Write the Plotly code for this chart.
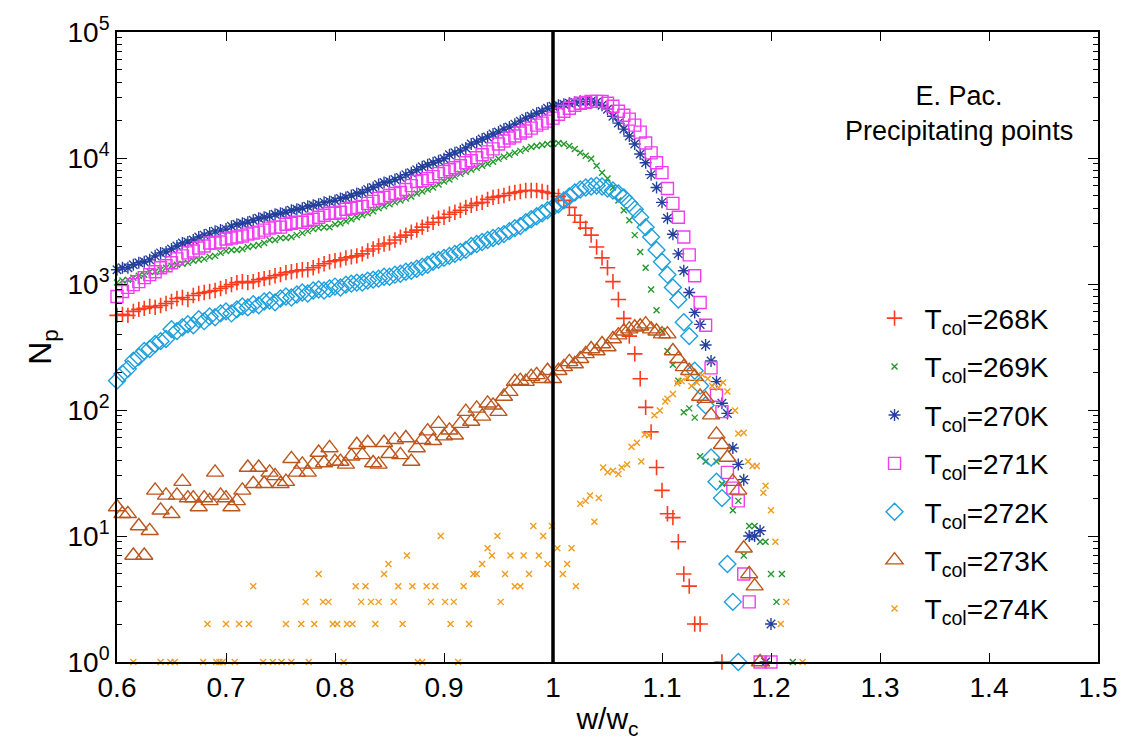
import plotly.graph_objects as go

# ---------------- data ----------------
X_START = 0.6
X_STEP = 0.005
CRITICAL_RATIO = 1.0

NP_268 = [564, 574, 564, 606, 629, 641, 664, 652, 676, 701, 727, 768, 782, 754, 811, 841, 856, 872, 888, 920,
          954, 988, 1026, 1044, 1026, 1044, 1083, 1103, 1123, 1164, 1186, 1230, 1252, 1275, 1298, 1298, 1346, 1396, 1447, 1500,
          1528, 1555, 1613, 1642, 1672, 1734, 1830, 1898, 2004, 2078, 2116, 2234, 2356, 2443, 2581, 2677, 2826, 2983, 3093, 3326,
          3387, 3576, 3708, 3845, 4059, 4209, 4365, 4445, 4692, 4866, 4955, 5045, 5232, 5328, 5425, 5523, 5523, 5523, 5425, 5328,
          5232, 4955, 4608, 4059, 3512, 3093, 2776, 2443, 1968, 1613, 1346, 1044, 754, 534, 386, 279, 177, 105, 67, 35,
          23, 15, 14, 9, 5, 4, 2, 2, None, None, None, 1]

NP_269 = [1026, 1064, 1083, 1123, 1164, 1186, 1252, 1252, 1298, 1346, 1396, 1421, 1447, 1473, 1528, 1555, 1583, 1642, 1672, 1766,
          1830, 1864, 1864, 1898, 1968, 2004, 2041, 2116, 2234, 2234, 2316, 2316, 2358, 2443, 2534, 2628, 2726, 2776, 2826, 2826,
          2983, 3037, 3150, 3267, 3387, 3512, 3642, 3776, 3987, 4134, 4287, 4445, 4608, 4778, 4955, 5232, 5425, 5624, 5832, 6158,
          6500, 6739, 7116, 7514, 7790, 8078, 8376, 8685, 9005, 9337, 9858, 10220, 10600, 10990, 11390, 11810, 12250, 12470, 12700, 12930,
          12930, 13160, 12930, 12470, 11810, 10990, 10410, 9858, 8685, 7650, 6862, 5832, 4608, 3845, 3208, 2443, 1798, 1346, 904, 618,
          423, 294, 229, 171, 96, 103, 87, 43, 39, None, 39, 26, None, 16, 19, 7, 12, 12, 9, 9,
          5, 3, 5, None, 1]

NP_270 = [1298, 1346, 1346, 1421, 1473, 1500, 1555, 1672, 1766, 1798, 1898, 2004, 2116, 2155, 2234, 2358, 2443, 2534, 2628, 2677,
          2726, 2878, 2983, 3037, 3093, 3208, 3326, 3387, 3449, 3576, 3642, 3708, 3845, 3915, 3987, 4134, 4209, 4287, 4445, 4526,
          4608, 4778, 4866, 5045, 5232, 5328, 5624, 5832, 6158, 6385, 6500, 6739, 6988, 7379, 7650, 8078, 8530, 8845, 9170, 9507,
          9858, 10600, 10990, 11390, 12030, 12930, 13400, 14150, 14670, 15490, 16060, 16960, 17590, 18570, 19610, 20710, 21470, 22670, 23500, 24820,
          25730, 26200, 26680, 27170, 27660, 28160, 28160, 28160, 27660, 26200, 24370, 21470, 18920, 16960, 14930, 12930, 10770, 9170, 7379, 5832,
          4445, 3326, 2485, 1734, 1275, 855, 595, 478, 328, 245, 168, 113, 94, 50, 37, 28, 10, 10, 11, 1,
          2]

NP_271 = [796, 872, 940, 988, 1044, 1123, 1186, 1252, 1346, 1396, 1473, 1583, 1672, 1766, 1830, 1932, 2004, 2116, 2116, 2155,
          2275, 2316, 2358, 2401, 2489, 2534, 2581, 2677, 2776, 2826, 2826, 2983, 3037, 3093, 3093, 3208, 3267, 3387, 3512, 3642,
          3642, 3708, 3915, 3987, 4059, 4134, 4365, 4526, 4778, 4866, 5045, 5232, 5328, 5624, 6039, 6500, 6618, 6862, 7116, 7514,
          7790, 8078, 8376, 8685, 9170, 9507, 10040, 10600, 11190, 11810, 12930, 13650, 14410, 14930, 15770, 16360, 17270, 18230, 18920, 19610,
          20710, 22270, 23500, 24820, 26200, 27170, 27660, 28160, 28160, 28160, 27170, 25730, 23500, 21860, 20340, 18230, 16060, 13160, 10990, 9170,
          7650, 5730, 4365, 3387, 2358, 1703, 1164, 713, 470, 216, 131, 97, 32, 24, 19, 5, 3, None, 1, None,
          1]

NP_272 = [171, 194, 212, 246, 264, 294, 305, 334, 352, 366, 438, 423, 454, 479, 471, 525, 507, 553, 544, 584,
          606, 584, 629, 664, 652, 690, 677, 727, 740, 715, 768, 796, 782, 826, 856, 841, 888, 904, 888, 920,
          954, 937, 988, 1006, 1026, 1026, 1064, 1083, 1103, 1143, 1143, 1186, 1207, 1252, 1275, 1322, 1371, 1421, 1500, 1555,
          1613, 1672, 1734, 1798, 1864, 2004, 2078, 2155, 2234, 2316, 2401, 2489, 2628, 2776, 2878, 3093, 3267, 3449, 3642, 3845,
          4059, 4287, 4608, 4955, 5328, 5624, 5832, 5940, 6039, 5940, 5730, 5523, 5232, 4866, 4365, 3915, 3387, 2826, 2358, 1864,
          1500, 1186, 940, 754, 497, 386, 205, 156, 109, 42, 27, 20, 6, 3, 1]

NP_273 = [17, 15, 15, 7, 12, 7, 11, 23, 16, 21, 15, 21, 27, 20, 20, 17, 20, 19, 32, 21,
          20, 17, 19, 23, 35, 26, 35, 26, 32, 30, 26, 27, 41, 32, 37, 32, 37, 46, 38, 50,
          39, 39, 37, 43, 53, 44, 55, 38, 37, 55, 45, 58, 44, 60, 39, 50, 58, 68, 57, 78,
          62, 69, 63, 78, 97, 81, 103, 89, 113, 109, 97, 128, 140, 168, 171, 168, 184, 190, 177, 205,
          177, 205, 220, 241, 232, 255, 279, 305, 294, 334, 316, 366, 393, 422, 438, 454, 462, 480, 438, 422,
          400, 400, 294, 255, 220, 205, 184, 128, 123, 91, 64, 53, 42, 27, 23, 8, 5, 4, 1]

W_274 = [0.615, 0.640, 0.649, 0.653, 0.679, 0.683, 0.691, 0.694, 0.697, 0.700, 0.708, 0.712, 0.721, 0.725, 0.734, 0.743,
         0.751, 0.755, 0.760, 0.769, 0.773, 0.776, 0.781, 0.785, 0.789, 0.794, 0.798, 0.802, 0.808, 0.811, 0.816, 0.819,
         0.824, 0.828, 0.833, 0.837, 0.840, 0.845, 0.849, 0.854, 0.858, 0.862, 0.866, 0.871, 0.876, 0.880, 0.884, 0.888,
         0.892, 0.897, 0.901, 0.906, 0.909, 0.913, 0.918, 0.923, 0.927, 0.930, 0.935, 0.940, 0.944, 0.949, 0.952, 0.956,
         0.961, 0.965, 0.970, 0.973, 0.978, 0.982, 0.987, 0.991, 0.995, 0.999, 1.004, 1.009, 1.013, 1.017, 1.021, 1.025,
         1.030, 1.034, 1.038, 1.042, 1.046, 1.050, 1.055, 1.060, 1.063, 1.068, 1.072, 1.077, 1.081, 1.084, 1.088, 1.093,
         1.098, 1.103, 1.105, 1.110, 1.114, 1.118, 1.123, 1.127, 1.132, 1.137, 1.142, 1.146, 1.152, 1.156, 1.160, 1.167,
         1.170, 1.175, 1.179, 1.183, 1.187, 1.193, 1.195, 1.200, 1.204, 1.209, 1.214, 1.229]
NP_274 = [1, 1, 1, 1, 1, 2, 1, 1, 1, 2, 1, 2, 2, 4, 1, 1,
          1, 2, 1, 2, 3, 1, 2, 5, 3, 3, 2, 2, 1, 2, 2, 4,
          3, 4, 3, 2, 3, 5, 6, 3, 4, 2, 7, 4, 1, 1, 4, 3,
          4, 10, 3, 2, 3, 1, 4, 2, 5, 5, 6, 8, 7, 10, 3, 5,
          7, 4, 4, 7, 5, 12, 7, 10, 6, 12, 8, 5, 6, 8, 4, 18,
          19, 21, 13, 20, 35, 32, 33, 31, 35, 37, 51, 55, 39, 64, 63, 91,
          99, 117, 123, 134, 163, 170, 180, 155, 165, 190, 177, 155, 150, 165, 140, 99,
          65, 66, 39, 36, 36, 22, 25, 16, 9, 2, 3, 1]

LABELS = ["T<sub>col</sub>=268K", "T<sub>col</sub>=269K", "T<sub>col</sub>=270K", "T<sub>col</sub>=271K",
          "T<sub>col</sub>=272K", "T<sub>col</sub>=273K", "T<sub>col</sub>=274K"]
X_TICKS = [0.6, 0.7, 0.8, 0.9, 1.0, 1.1, 1.2, 1.3, 1.4, 1.5]
Y_DECADES = [0, 1, 2, 3, 4, 5]
ANNOTATION = "E. Pac.<br>Precipitating points"


def grid(n):
    return [round(X_START + X_STEP * i, 4) for i in range(n)]


series = [
    (grid(len(NP_268)), NP_268, LABELS[0], "cross-thin-open", "#FF3B1E", 11, 1.6),
    (grid(len(NP_269)), NP_269, LABELS[1], "x-thin-open", "#22992A", 6, 1.4),
    (grid(len(NP_270)), NP_270, LABELS[2], "asterisk-open", "#24409C", 10, 1.4),
    (grid(len(NP_271)), NP_271, LABELS[3], "square-open", "#F23CF2", 12, 1.4),
    (grid(len(NP_272)), NP_272, LABELS[4], "diamond-open", "#1C9FDC", 13, 1.4),
    (grid(len(NP_273)), NP_273, LABELS[5], "triangle-up-open", "#BC561C", 15, 1.4),
    (W_274, NP_274, LABELS[6], "x-thin-open", "#F29B1C", 6, 1.4),
]

FONT = "Liberation Sans, Arial, Helvetica, sans-serif"

y_tickvals = [10 ** d for d in Y_DECADES]
y_ticktext = ["10<sup>%d</sup>" % d for d in Y_DECADES]
y_minor = [m * 10 ** d for d in Y_DECADES[:-1] for m in range(2, 10)]

fig = go.Figure()
for i, (xs, ys, name, sym, col, size, lw) in enumerate(series):
    fig.add_trace(go.Scatter(
        x=xs, y=ys, mode="markers", name=name, legendgroup=str(i),
        cliponaxis=False,
        marker=dict(symbol=sym, size=size, color=col, line=dict(color=col, width=lw)),
    ))

fig.add_shape(type="line", x0=CRITICAL_RATIO, x1=CRITICAL_RATIO, xref="x", y0=0, y1=1, yref="paper",
              line=dict(color="black", width=3.5), layer="above")

fig.add_annotation(text=ANNOTATION, xref="paper", yref="paper", x=0.858, y=0.925,
                   xanchor="center", yanchor="top", showarrow=False, align="center",
                   font=dict(family=FONT, size=27, color="black"))

fig.update_layout(
    width=1143, height=742,
    margin=dict(l=117, r=45, t=30, b=76),
    paper_bgcolor="white", plot_bgcolor="white",
    font=dict(family=FONT, size=28, color="black"),
    showlegend=True,
    legend=dict(x=0.762, y=0.585, xanchor="left", yanchor="top", bgcolor="rgba(0,0,0,0)",
                font=dict(family=FONT, size=28, color="black"), tracegroupgap=9, itemwidth=50),
    xaxis=dict(range=[0.6, 1.5], tickvals=X_TICKS, ticktext=[("%g" % v) for v in X_TICKS],
               ticks="inside", ticklen=9, tickwidth=1.2, tickcolor="black",
               showline=True, linecolor="black", linewidth=1.6, mirror="ticks",
               showgrid=False, zeroline=False,
               title=dict(text="w/w<sub>c</sub>", font=dict(family=FONT, size=30), standoff=6),
               tickfont=dict(family=FONT, size=28)),
    yaxis=dict(type="log", range=[0, 5], tickmode="array", tickvals=y_tickvals, ticktext=y_ticktext,
               ticks="inside", ticklen=10, tickwidth=1.2, tickcolor="black",
               minor=dict(ticks="inside", ticklen=5, tickcolor="black", tickwidth=1,
                          tickmode="array", tickvals=y_minor, showgrid=False),
               showline=True, linecolor="black", linewidth=1.6, mirror="ticks",
               showgrid=False, zeroline=False,
               title=dict(text="N<sub>p</sub>", font=dict(family=FONT, size=32), standoff=6),
               tickfont=dict(family=FONT, size=28)),
)

fig.write_html("out.html")
